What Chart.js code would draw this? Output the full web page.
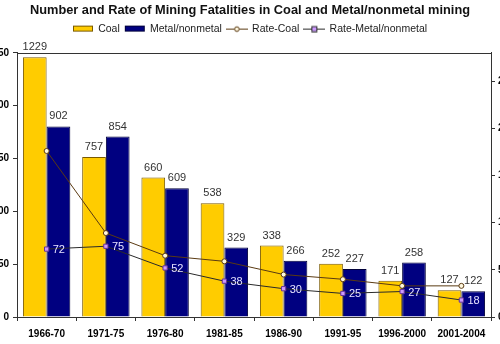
<!DOCTYPE html>
<html lang="en">
<head>
    <meta charset="UTF-8">
    <title>Mining Fatalities</title>
    <script src="https://cdn.jsdelivr.net/npm/chart.js"></script>
    <style>
        body { margin: 0; background: #fff; overflow: hidden; width: 500px; height: 344px; position: relative; }
        #fatalChart { position: absolute; left: -20px; top: 0; }
    </style>
</head>
<body>
    <canvas id="fatalChart" width="540" height="344"></canvas>
    <script>
        var periods = ['1966-70', '1971-75', '1976-80', '1981-85', '1986-90', '1991-95', '1996-2000', '2001-2004'];
        var coalDeaths = [1229, 757, 660, 538, 338, 252, 171, 127];
        var metalDeaths = [902, 854, 609, 329, 266, 227, 258, 122];
        var coalRate = [176, 89, 65, 59, 45, 40, 33, 33];
        var metalRate = [72, 75, 52, 38, 30, 25, 27, 18];
        var leftTicks = [0, 250, 500, 750, 1000, 1250];
        var rightTicks = [0, 50, 100, 150, 200, 250];

        var FONT = '"Liberation Sans", Arial, sans-serif';
        var COAL = '#ffcc00', COAL_EDGE = '#7a5a00';
        var METAL = '#000080', METAL_EDGE = '#00003a';
        var LINE_COAL = '#5a3a12', LINE_METAL = '#2a2a2a';

        // little canvases used as legend icons
        function makeIcon(kind) {
            var c = document.createElement('canvas');
            c.width = 22; c.height = 8;
            var g = c.getContext('2d');
            if (kind === 'coal' || kind === 'metal') {
                g.fillStyle = kind === 'coal' ? COAL : METAL;
                g.strokeStyle = kind === 'coal' ? COAL_EDGE : METAL_EDGE;
                g.fillRect(1.5, 1.5, 19, 5);
                g.strokeRect(1.5, 1.5, 19, 5);
            } else {
                g.strokeStyle = kind === 'rcoal' ? LINE_COAL : LINE_METAL;
                g.lineWidth = 1;
                g.beginPath(); g.moveTo(0, 4.5); g.lineTo(22, 4.5); g.stroke();
                if (kind === 'rcoal') {
                    g.fillStyle = '#fff8e0';
                    g.beginPath(); g.arc(11, 4.5, 2.3, 0, Math.PI * 2); g.fill(); g.stroke();
                } else {
                    g.fillStyle = '#cc99ff';
                    g.fillRect(8.5, 2, 5, 5); g.strokeRect(8.5, 2, 5, 5);
                }
            }
            return c;
        }

        var valueLabels = {
            id: 'valueLabels',
            afterDatasetsDraw: function(chart) {
                var ctx = chart.ctx;
                ctx.save();
                ctx.font = '11px ' + FONT;
                ctx.textAlign = 'center';
                ctx.textBaseline = 'middle';
                ctx.fillStyle = '#333';
                [0, 1].forEach(function(i) {
                    chart.getDatasetMeta(i).data.forEach(function(bar, j) {
                        ctx.fillText(chart.data.datasets[i].data[j], bar.x, bar.y - 10);
                    });
                });
                ctx.font = '11px ' + FONT;
                ctx.textAlign = 'left';
                ctx.fillStyle = '#e8e4ff';
                chart.getDatasetMeta(3).data.forEach(function(pt, j) {
                    ctx.fillText(metalRate[j], pt.x + 6, pt.y + 1);
                });
                ctx.restore();
            },
            afterDraw: function(chart) {
                var a = chart.chartArea, ctx = chart.ctx;
                ctx.save();
                ctx.strokeStyle = '#333';
                ctx.lineWidth = 1;
                ctx.beginPath();
                ctx.moveTo(a.left, Math.round(a.top) + 0.5);
                ctx.lineTo(a.right, Math.round(a.top) + 0.5);
                ctx.stroke();
                ctx.restore();
            }
        };

        new Chart(document.getElementById('fatalChart'), {
            data: {
                labels: periods,
                datasets: [
                    { type: 'bar', label: 'Coal', data: coalDeaths, yAxisID: 'y', order: 2,
                      backgroundColor: COAL, borderColor: COAL_EDGE, borderWidth: 1,
                      categoryPercentage: 0.8, barPercentage: 1.0 },
                    { type: 'bar', label: 'Metal/nonmetal', data: metalDeaths, yAxisID: 'y', order: 2,
                      backgroundColor: METAL, borderColor: METAL_EDGE, borderWidth: 1,
                      categoryPercentage: 0.8, barPercentage: 1.0 },
                    { type: 'line', label: 'Rate-Coal', data: coalRate, yAxisID: 'y2', order: 1,
                      borderColor: LINE_COAL, borderWidth: 1, tension: 0,
                      pointStyle: 'circle', pointRadius: 2.5, pointBackgroundColor: '#fff8e0',
                      pointBorderColor: LINE_COAL, pointBorderWidth: 1 },
                    { type: 'line', label: 'Rate-Metal/nonmetal', data: metalRate, yAxisID: 'y2', order: 1,
                      borderColor: LINE_METAL, borderWidth: 1, tension: 0,
                      pointStyle: 'rect', pointRadius: 3, pointBackgroundColor: '#cc99ff',
                      pointBorderColor: '#663399', pointBorderWidth: 1 }
                ]
            },
            options: {
                responsive: false,
                animation: false,
                devicePixelRatio: 1,
                layout: { padding: 0 },
                plugins: {
                    tooltip: { enabled: false },
                    title: {
                        display: true,
                        text: 'Number and Rate of Mining Fatalities in Coal and Metal/nonmetal mining',
                        color: '#111',
                        font: { family: FONT, size: 12.8, weight: 'bold' },
                        padding: { top: 3, bottom: 0 }
                    },
                    legend: {
                        display: true,
                        position: 'top',
                        labels: {
                            usePointStyle: true,
                            pointStyleWidth: 20,
                            padding: 5,
                            color: '#222',
                            font: { family: FONT, size: 10.5 },
                            generateLabels: function() {
                                var names = ['Coal', 'Metal/nonmetal', 'Rate-Coal', 'Rate-Metal/nonmetal'];
                                var kinds = ['coal', 'metal', 'rcoal', 'rmetal'];
                                return names.map(function(n, i) {
                                    return { text: n, datasetIndex: i, pointStyle: makeIcon(kinds[i]),
                                             fontColor: '#222', hidden: false, lineWidth: 0,
                                             fillStyle: 'transparent', strokeStyle: 'transparent' };
                                });
                            }
                        }
                    }
                },
                scales: {
                    x: {
                        grid: { offset: true, drawOnChartArea: false, tickLength: 4, color: '#333' },
                        border: { color: '#333' },
                        ticks: { color: '#000', font: { family: FONT, size: 10, weight: 'bold' }, padding: 7, maxRotation: 0 },
                        afterFit: function(s) { s.height = 27; }
                    },
                    // empty top axis, only used as a spacer above the plot
                    xTop: {
                        type: 'category',
                        position: 'top',
                        labels: periods,
                        grid: { display: false },
                        border: { display: false },
                        ticks: { display: false },
                        afterFit: function(s) { s.height = 9; }
                    },
                    y: {
                        position: 'left',
                        min: 0, max: 1250,
                        afterBuildTicks: function(s) { s.ticks = leftTicks.map(function(v) { return { value: v }; }); },
                        grid: { drawOnChartArea: false, tickLength: 4, color: '#333' },
                        border: { color: '#333' },
                        ticks: { color: '#000', font: { family: FONT, size: 10, weight: 'bold' }, padding: 4 },
                        afterFit: function(s) { s.width = 37; }
                    },
                    y2: {
                        position: 'right',
                        min: 0, max: 280,
                        afterBuildTicks: function(s) { s.ticks = rightTicks.map(function(v) { return { value: v }; }); },
                        grid: { drawOnChartArea: false, tickLength: 4, color: '#333' },
                        border: { color: '#333' },
                        ticks: { color: '#000', font: { family: FONT, size: 10, weight: 'bold' }, padding: 3 },
                        afterFit: function(s) { s.width = 29; }
                    }
                }
            },
            plugins: [valueLabels]
        });
    </script>
</body>
</html>
